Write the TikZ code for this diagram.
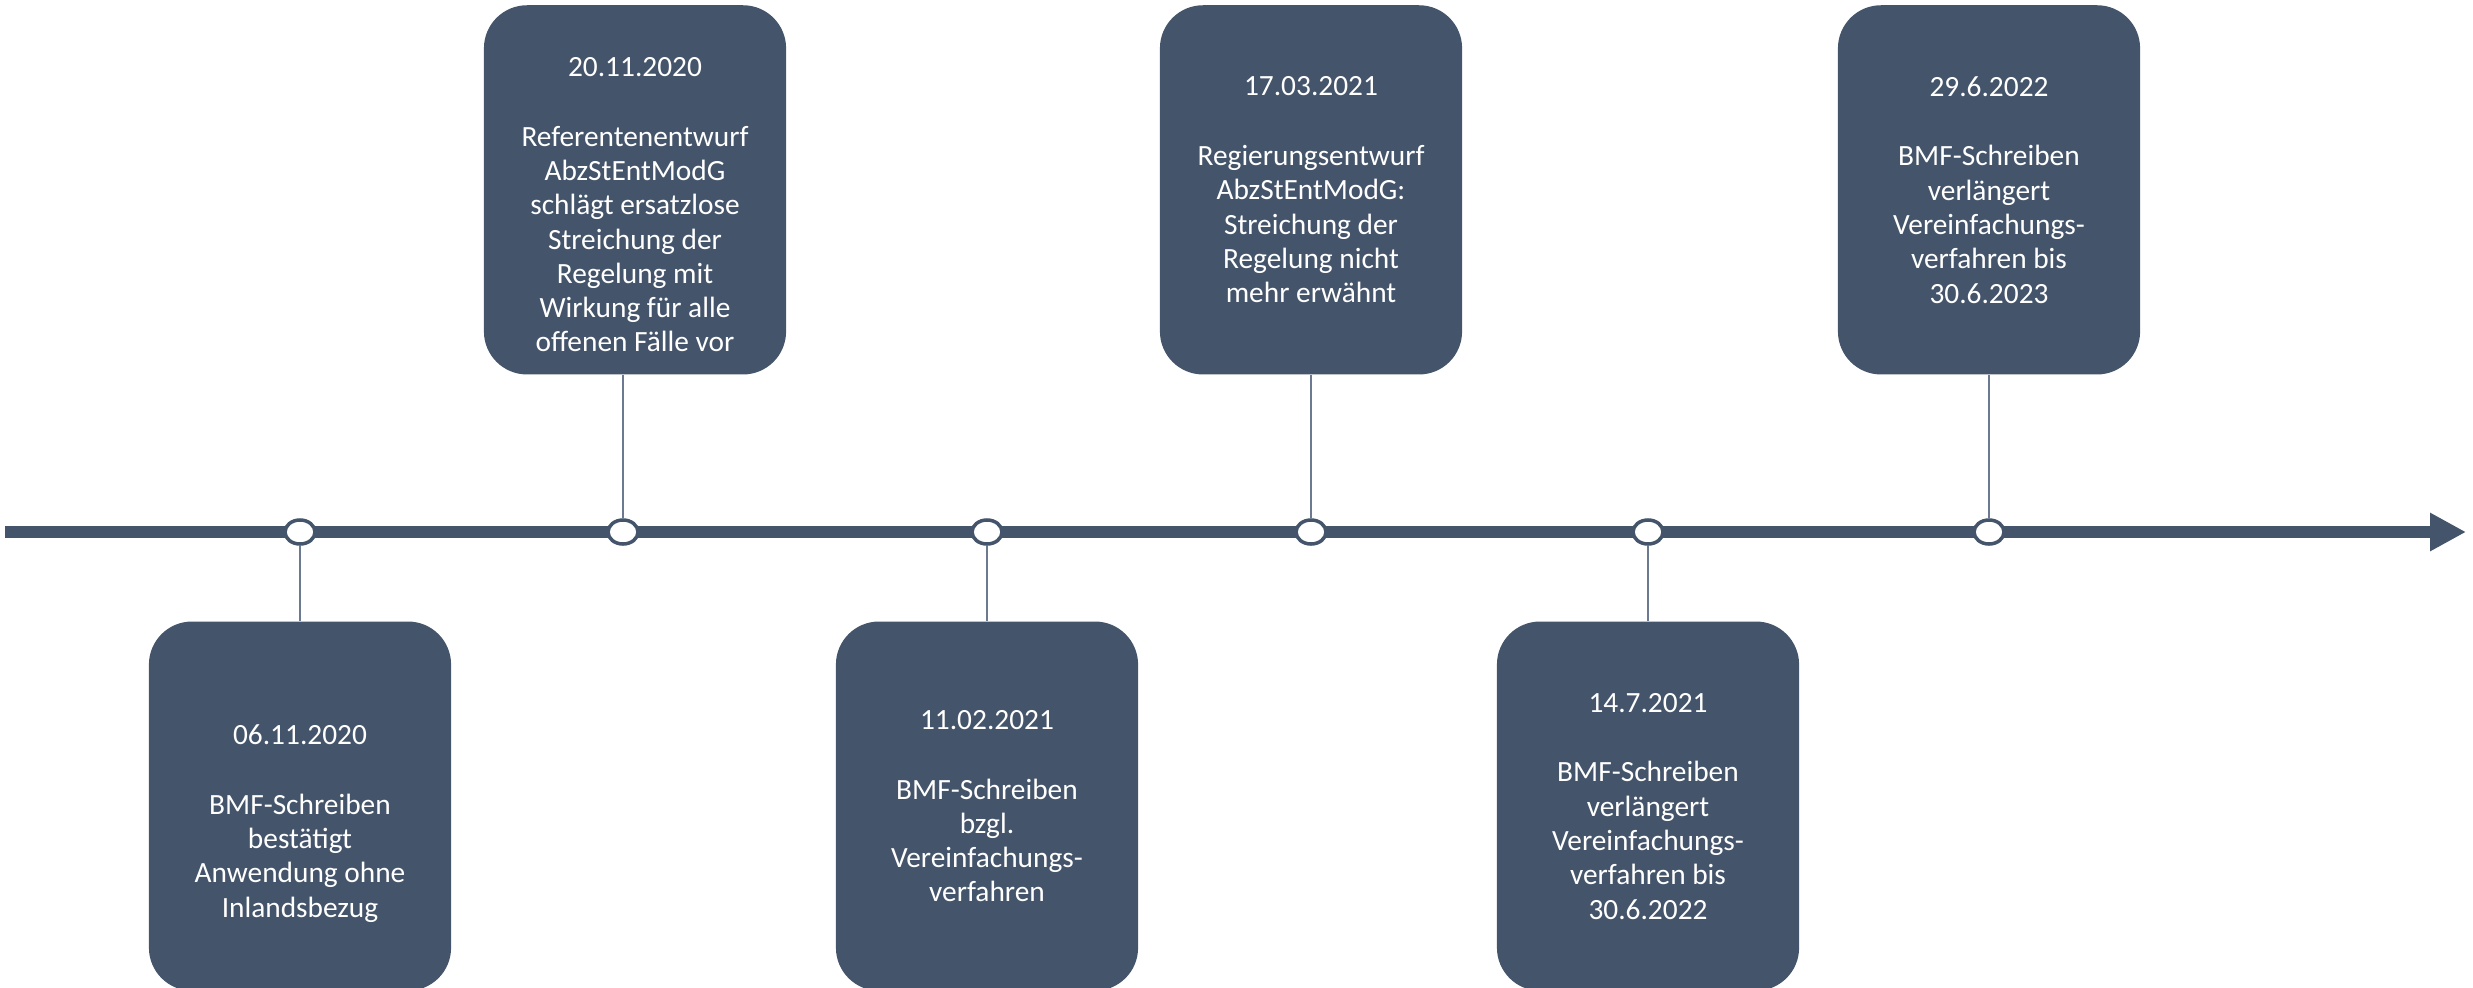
\documentclass[tikz,border=0pt]{standalone}
\usepackage{fontspec}
\setmainfont{Carlito}
\usetikzlibrary{arrows.meta,shapes.geometric,positioning}
\definecolor{slate}{HTML}{44546A}
\definecolor{stemgray}{HTML}{6B7A90}

\begin{document}
\begin{tikzpicture} [x=0.01cm,y=-0.01cm,
  event/.style= {shape=rectangle,rounded corners=0.43cm,fill=slate,text=white,minimum width=3.02cm,minimum height=3.69cm,inner sep=0,align=center,font=\fontsize{8.35}{9.75}\selectfont},
  dot/.style= {shape=ellipse,minimum width=0.3cm,minimum height=0.24cm,inner sep=0,draw=slate,line width=1pt,fill=white},
  stem/.style= {draw=stemgray,line width=0.6pt}]
\useasboundingbox (0,0) rectangle (2473,987);

% time axis
\draw[slate,line width=0.12cm,-{Triangle[length=0.36cm,width=0.36cm]}] (5,532)--(2466,532);
\foreach \x/\n in {300/d1,623/d2,987/d3,1311/d4,1648/d5,1989/d6}{%
  \node[dot] (\n) at (\x,532) {};}

% events below the axis
\node[event,below=0.75cm of d1] (b1) {\\[5.7pt] 06.11.2020\\[10.1pt] BMF-Schreiben\\ bestätigt\\ Anwendung ohne\\ Inlandsbezug};
\node[event,below=0.75cm of d3] (b3) {11.02.2021\\[10.1pt] BMF-Schreiben\\ bzgl.\\ Vereinfachungs-\\ verfahren};
\node[event,below=0.75cm of d5] (b5) {14.7.2021\\[10.1pt] BMF-Schreiben\\ verlängert\\ Vereinfachungs-\\ verfahren bis\\ 30.6.2022};

% events above the axis
\node[event,above=1.43cm of d2,xshift=0.12cm] (b2) {\\[4.1pt] 20.11.2020\\[10.1pt] Referentenentwurf\\ AbzStEntModG\\ schlägt ersatzlose\\ Streichung der\\ Regelung mit\\ Wirkung für alle\\ offenen Fälle vor};
\node[event,above=1.43cm of d4] (b4) {17.03.2021\\[10.1pt] Regierungsentwurf\\ AbzStEntModG:\\ Streichung der\\ Regelung nicht\\ mehr erwähnt};
\node[event,above=1.43cm of d6] (b6) {29.6.2022\\[10.1pt] BMF-Schreiben\\ verlängert\\ Vereinfachungs-\\ verfahren bis\\ 30.6.2023};

\foreach \n in {1,3,5}{%
  \draw[stem] (d\n.south)--(d\n |- b\n.north);}
\foreach \n in {2,4,6}{%
  \draw[stem] (d\n.north)--(d\n |- b\n.south);}
\end{tikzpicture}
\end{document}
